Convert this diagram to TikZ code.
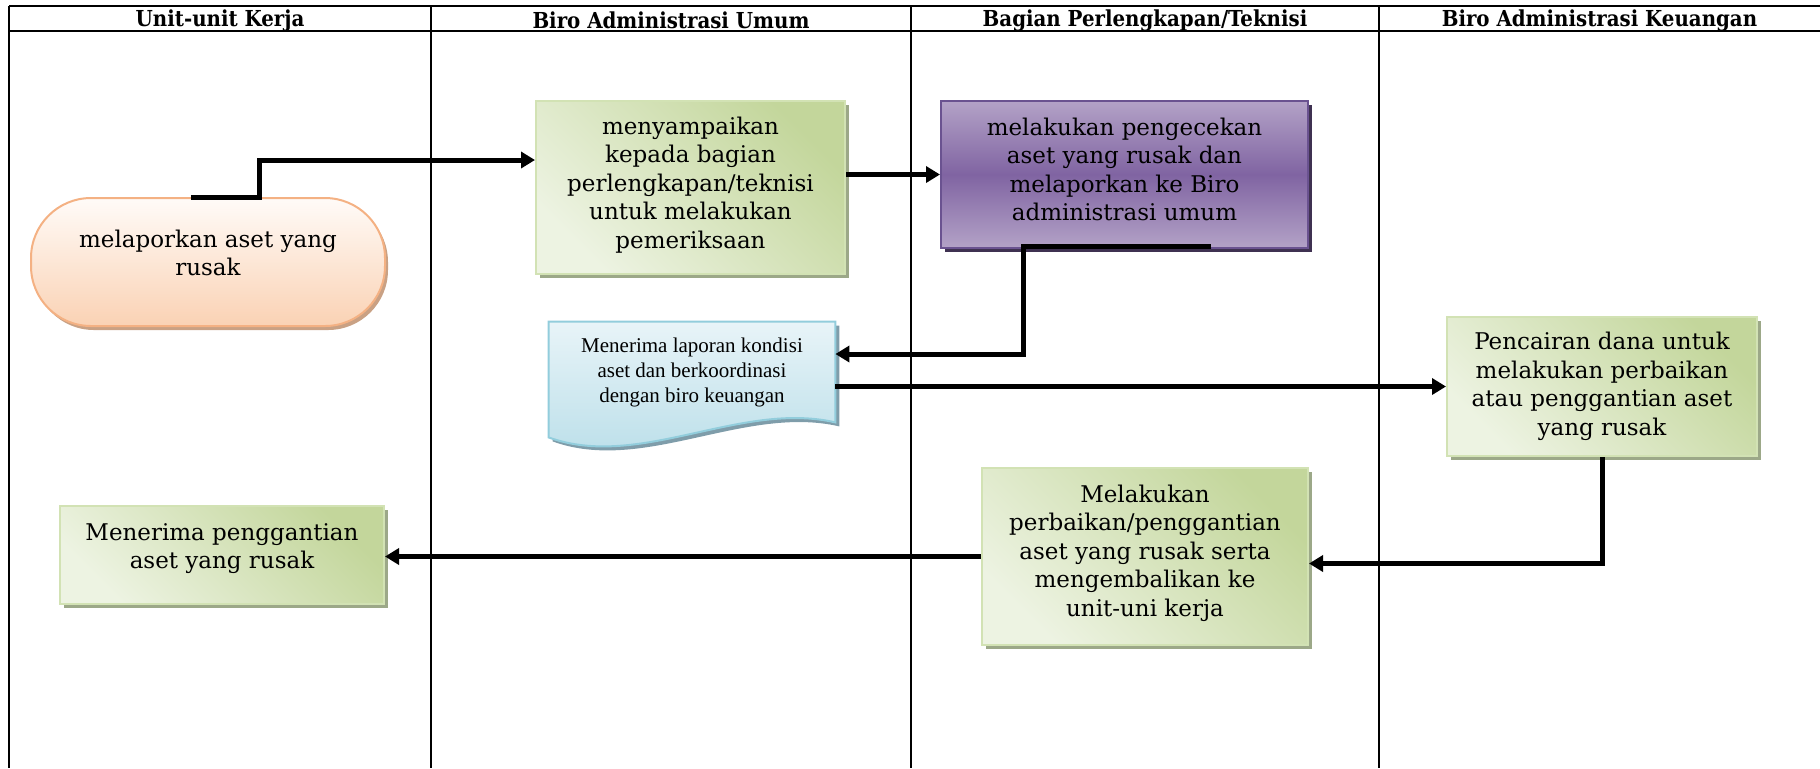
\documentclass[tikz,border=0pt]{standalone}
\usepackage{fontspec}
\setmainfont{DejaVu Serif}
\newfontfamily\hdfont{DejaVu Serif Condensed}
\newfontfamily\tmfont{Liberation Serif}
\usetikzlibrary{calc,shadows,arrows.meta}
\pgfdeclarelayer{bg}
\pgfsetlayers{bg,main}
\definecolor{grlo}{HTML}{EDF3E2}
\definecolor{grhi}{HTML}{C3D69B}
\definecolor{grbd}{HTML}{D2E2B4}
\definecolor{grsh}{HTML}{9CA888}
\definecolor{pulo}{HTML}{B3A2C7}
\definecolor{pumid}{HTML}{8064A2}
\definecolor{pubd}{HTML}{6A5290}
\definecolor{push}{HTML}{3F3151}
\definecolor{orlo}{HTML}{FAD2B4}
\definecolor{orhi}{HTML}{FFFBF8}
\definecolor{orbd}{HTML}{F4B183}
\definecolor{orsh}{HTML}{C9A184}
\definecolor{bllo}{HTML}{B7DDE8}
\definecolor{blhi}{HTML}{E8F4F8}
\definecolor{blbd}{HTML}{92CDDC}
\definecolor{blsh}{HTML}{7F9DAA}

\begin{document}
\begin{tikzpicture}[x=0.5pt,y=-0.5pt,
  >={Triangle[length=7pt,width=8pt]},
  lane/.style={line width=1pt},
  head/.style={font=\hdfont\bfseries\fontsize{11}{12}\selectfont},
  txt/.style={align=center,inner sep=2pt,font=\fontsize{11.5}{14.25}\selectfont},
  box/.style={txt,draw=grbd,line width=1pt,top color=grhi,bottom color=grlo,shading angle=-45,
    general shadow={fill=grsh,shadow xshift=2pt,shadow yshift=-2pt}},
  pbox/.style={txt,draw=pubd,line width=1pt,top color=pulo,bottom color=pulo,middle color=pumid,
    general shadow={fill=push,shadow xshift=2pt,shadow yshift=-2pt}},
  term/.style={txt,draw=orbd,line width=1pt,rounded corners=30pt,top color=orhi,bottom color=orlo,
    general shadow={fill=orsh,shadow xshift=1.5pt,shadow yshift=-2pt}},
  docbox/.style={draw=blbd,line width=1pt,top color=blhi,bottom color=bllo,
    general shadow={fill=blsh,shadow xshift=2pt,shadow yshift=-2pt}},
  flow/.style={->,line width=2.5pt}]
  \useasboundingbox (0,0) rectangle (1820,768);

  \draw[lane] (9,6) -- (1820,6);
  \draw[lane] (9,31) -- (1820,31);
  \foreach \x in {9,431,911,1379} {
    \draw[lane] (\x,6) -- (\x,768);
  }
  \node[head] (h1) at (220,20.5) {Unit-unit Kerja};
  \node[head] (h2) at (671,20.5) {Biro Administrasi Umum};
  \node[head] (h3) at (1145,20.5) {Bagian Perlengkapan/Teknisi};
  \node[head] (h4) at (1599.5,20.5) {Biro Administrasi Keuangan};

  \node[term,minimum width=177pt,minimum height=64pt] (rep) at (208,262)
    {melaporkan aset yang\\rusak\\[-5pt]};
  \node[box,minimum width=154.5pt,minimum height=86.5pt] (send) at (690.5,187.5)
    {menyampaikan\\kepada bagian\\perlengkapan/teknisi\\untuk melakukan\\pemeriksaan\\[-9.5pt]};
  \node[pbox,minimum width=183.5pt,minimum height=73.5pt] (check) at (1124.5,174.5)
    {melakukan pengecekan\\aset yang rusak dan\\melaporkan ke Biro\\administrasi umum\\[-9pt]};
  \node[align=center,inner sep=2pt,font=\tmfont\fontsize{10.5}{12.5}\selectfont,
    minimum width=143pt,minimum height=50pt] (recv) at (692,372)
    {Menerima laporan kondisi\\aset dan berkoordinasi\\dengan biro keuangan};
  \begin{pgfonlayer}{bg}
    \path[docbox] (recv.north west) -- (recv.north east) -- (recv.south east)
      .. controls +(-95,-22) and +(91,33) .. ([yshift=-7.5pt]recv.south west) -- cycle;
  \end{pgfonlayer}
  \node[box,minimum width=155pt,minimum height=69.5pt] (fund) at (1602,386.5)
    {Pencairan dana untuk\\melakukan perbaikan\\atau penggantian aset\\yang rusak};
  \node[box,minimum width=163pt,minimum height=88.5pt] (fix) at (1145,556.5)
    {Melakukan\\perbaikan/penggantian\\aset yang rusak serta\\mengembalikan ke\\unit-uni kerja\\[-8pt]};
  \node[box,minimum width=162pt,minimum height=49pt] (get) at (222,555)
    {Menerima penggantian\\aset yang rusak\\[-5.5pt]};

  \coordinate (c1) at (259,160);
  \draw[flow] ($(rep.north)+(-17,0)$) -| (c1) -- (c1 -| send.west);
  \draw[flow] (send.east |- check.west) -- (check.west);
  \draw[flow] ($(check.south)+(86.5,-3)$) -- ++(-188,0) |- ($(recv.east)+(0,-18)$);
  \draw[flow] (recv.east |- fund.west) -- (fund.west);
  \draw[flow] (fund.south) |- ($(fix.east)+(0,7)$);
  \draw[flow] (fix.west) -- (fix.west -| get.east);
\end{tikzpicture}
\end{document}
